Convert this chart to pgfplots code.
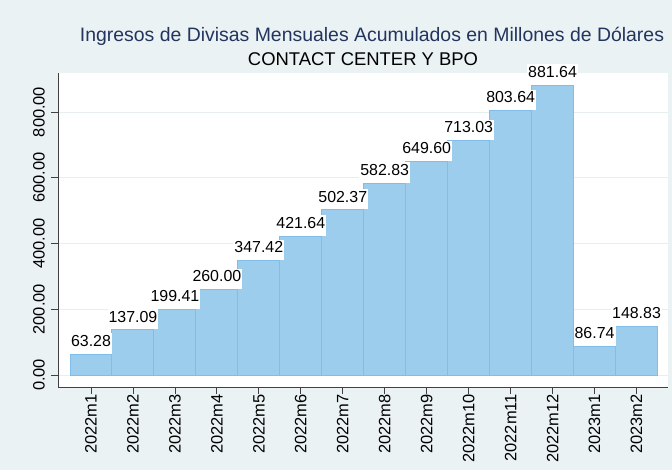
\documentclass[border=0pt]{standalone}
\usepackage{pgfplots}
\pgfplotsset{compat=1.18}
\usepackage{fontspec}
\setmainfont{Liberation Sans}
\definecolor{bgc}{RGB}{234,242,243}
\definecolor{barfill}{RGB}{157,205,236}
\definecolor{barline}{RGB}{130,188,232}
\definecolor{titlec}{RGB}{35,52,95}
\definecolor{gridc}{RGB}{230,238,240}
\pgfplotstableread{
x y label
0 63.28 63.28
1 137.09 137.09
2 199.41 199.41
3 260.00 260.00
4 347.42 347.42
5 421.64 421.64
6 502.37 502.37
7 582.83 582.83
8 649.60 649.60
9 713.03 713.03
10 803.64 803.64
11 881.64 881.64
12 86.74 86.74
13 148.83 148.83
}\datatable
\begin{document}
\begin{tikzpicture}
\fill[bgc] (-58bp,-83bp) rectangle (614bp,387bp);
\useasboundingbox (-58bp,-83bp) rectangle (614bp,387bp);
\begin{axis}[
  at={(0,0)}, anchor=south west,
  scale only axis, width=610bp, height=314bp,
  xmin=-0.786, xmax=13.75, ymin=-36.5, ymax=918.6,
  axis x line*=bottom, axis y line*=left,
  axis line style={black!75, line width=0.8bp, -},
  axis background/.style={fill=white},
  tick align=outside, major tick length=7bp,
  tick style={black!75, line width=0.8bp},
  xtick={0,...,13},
  xticklabels={2022m1,2022m2,2022m3,2022m4,2022m5,2022m6,2022m7,2022m8,2022m9,2022m10,2022m11,2022m12,2023m1,2023m2},
  xticklabel style={rotate=90, anchor=east, inner sep=0pt, font=\fontsize{16.5}{18}\selectfont},
  ytick={0,200,400,600,800},
  yticklabel style={rotate=90, anchor=south, inner xsep=0pt, inner ysep=6bp, font=\fontsize{16.5}{18}\selectfont,
    /pgf/number format/.cd, fixed, fixed zerofill, precision=2, assume math mode=true},
  ymajorgrids, grid style={gridc, line width=0.8bp},
  minor tick num=0,
]
\addplot[ybar, bar width=1, bar shift=0pt, fill=barfill, draw=barline, line width=1bp,
  point meta=explicit symbolic,
  nodes near coords={\rule[-5.3bp]{0pt}{0pt}\pgfplotspointmeta},
  every node near coord/.append style={font=\fontsize{16}{18}\selectfont, fill=white, inner xsep=1bp, inner ysep=2bp, yshift=0pt, anchor=south, text=black}]
  table[x=x, y=y, meta=label] {\datatable};
\end{axis}
\node[anchor=base, text=titlec, font=\fontsize{19.5}{22}\selectfont] at (314bp,345bp) {Ingresos de Divisas Mensuales Acumulados en Millones de Dólares};
\node[anchor=base, font=\fontsize{18.5}{21}\selectfont] at (305bp,321bp) {CONTACT CENTER Y BPO};
\end{tikzpicture}
\end{document}
